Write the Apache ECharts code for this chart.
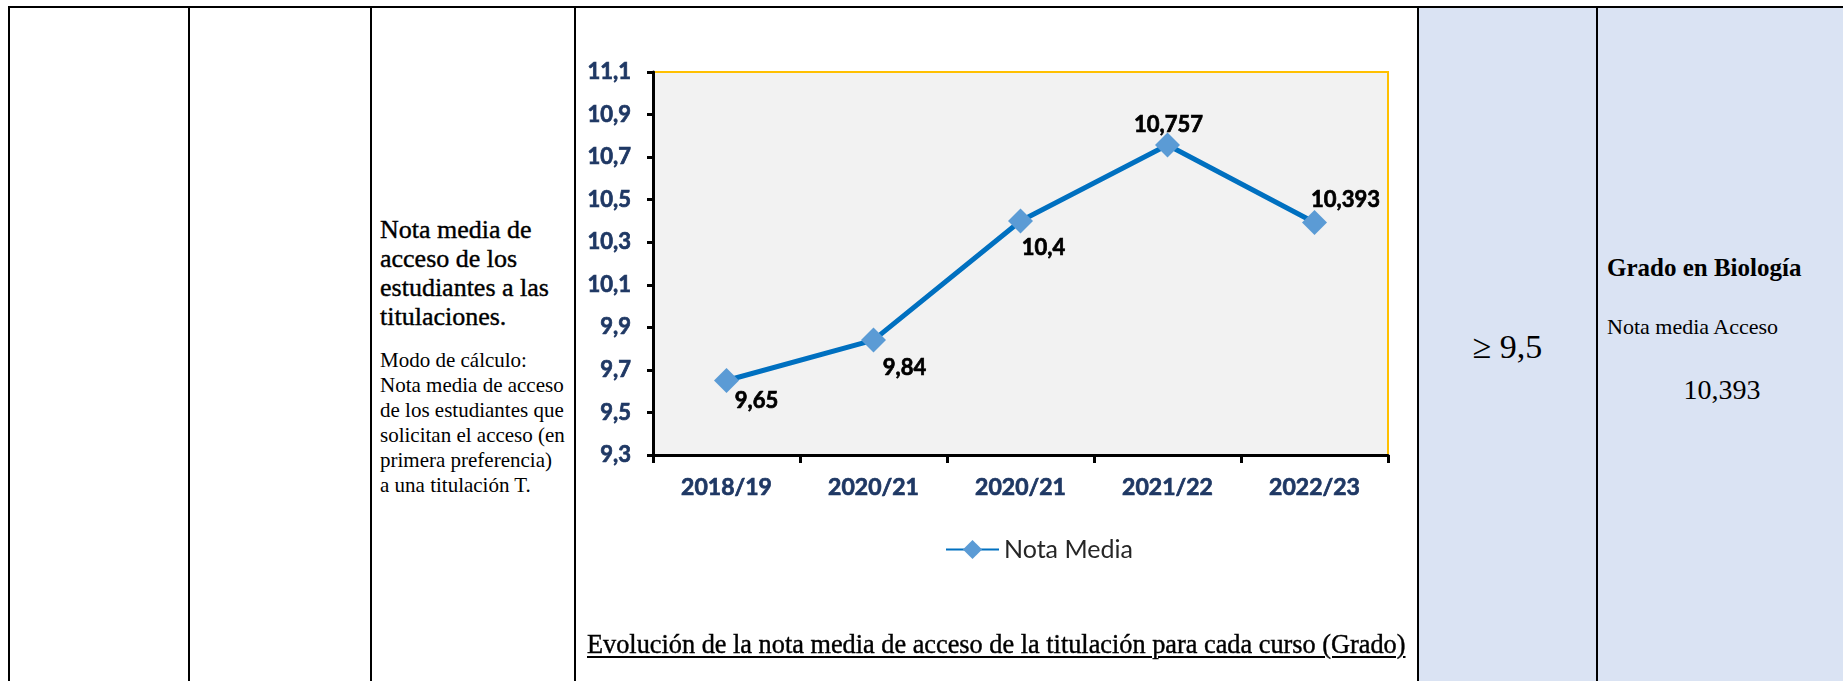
<!DOCTYPE html>
<html>
<head>
<meta charset="utf-8">
<title>Nota media de acceso</title>
<script src="https://cdn.jsdelivr.net/npm/echarts@6/dist/echarts.min.js"></script>
<style>
  html, body { margin: 0; padding: 0; background: #fff; }
  body { width: 1843px; height: 681px; position: relative; overflow: hidden;
         font-family: "Liberation Serif", serif; color: #000; }
  .vline { position: absolute; top: 6px; width: 2px; height: 675px; background: #000; }
  .hline { position: absolute; left: 8px; top: 6px; width: 1835px; height: 2px; background: #000; }
  .azul { position: absolute; top: 8px; height: 673px; background: #DAE3F3; }
  .txt { position: absolute; white-space: nowrap; }
  .grueso { -webkit-text-stroke: 0.4px #000; }
  #chart { position: absolute; left: 576px; top: 8px; width: 841px; height: 673px; }
</style>
</head>
<body>
  <!-- celdas azules -->
  <div class="azul" style="left:1419px;width:177px"></div>
  <div class="azul" style="left:1598px;width:245px"></div>

  <!-- bordes de la tabla -->
  <div class="hline"></div>
  <div class="vline" style="left:8px"></div>
  <div class="vline" style="left:188px"></div>
  <div class="vline" style="left:370px"></div>
  <div class="vline" style="left:574px"></div>
  <div class="vline" style="left:1417px"></div>
  <div class="vline" style="left:1596px"></div>

  <!-- texto del indicador -->
  <div class="txt grueso" style="left:380px;top:215px;font-size:26px;line-height:29px">
    Nota media de<br>acceso de los<br>estudiantes a las<br>titulaciones.
  </div>
  <div class="txt" style="left:380px;top:348px;font-size:21px;line-height:25px">
    Modo de cálculo:<br>Nota media de acceso<br>de los estudiantes que<br>solicitan el acceso (en<br>primera preferencia)<br>a una titulación T.
  </div>

  <!-- grafico -->
  <div id="chart"></div>
  <div class="txt grueso" style="left:587px;top:630px;font-size:26.3px;line-height:30px;text-decoration:underline;text-decoration-thickness:1.5px;text-underline-offset:3px">
    Evolución de la nota media de acceso de la titulación para cada curso (Grado)
  </div>

  <!-- columnas de la derecha -->
  <div class="txt" style="left:1419px;width:177px;top:327px;font-size:34px;line-height:40px;text-align:center">≥ 9,5</div>
  <div class="txt" style="left:1607px;top:253px;font-size:25px;line-height:30px;font-weight:bold">Grado en Biología</div>
  <div class="txt" style="left:1607px;top:313px;font-size:22px;line-height:28px">Nota media Acceso</div>
  <div class="txt" style="left:1607px;width:230px;top:373px;font-size:28px;line-height:34px;text-align:center">10,393</div>

<script>
// Datos del grafico
const cursos = ['2018/19', '2020/21', '2020/21', '2021/22', '2022/23'];
const notaMedia = [9.65, 9.84, 10.4, 10.757, 10.393];
const ejeYMin = 9.3;
const ejeYMax = 11.1;
const ejeYMarcas = [9.3, 9.5, 9.7, 9.9, 10.1, 10.3, 10.5, 10.7, 10.9, 11.1];

// Desplazamiento de cada etiqueta respecto a su punto (px)
const desplazEtiquetas = [[30, 20], [31, 28], [23, 27], [1, -20], [31, -23]];

var chart = echarts.init(document.getElementById('chart'));

// formato con coma decimal
function conComa(v) {
    return String(v).replace('.', ',');
}

// texto en negrita algo mas grueso (parecido a Calibri)
function negrita(color, size) {
    return {
        fontFamily: 'Lato',
        fontWeight: 'bold',
        fontSize: size,
        color: color,
        textBorderColor: color,
        textBorderWidth: 0.7
    };
}

var option = {
    animation: false,
    grid: {
        left: 77,
        top: 64,
        width: 735,
        height: 383,
        show: true,
        backgroundColor: '#F2F2F2',
        borderColor: '#FFC000',
        borderWidth: 2
    },
    legend: {
        data: ['Nota Media'],
        left: 364,
        top: 524,
        itemWidth: 53,
        itemHeight: 24,
        textStyle: {
            fontFamily: 'Lato',
            fontSize: 25,
            color: '#262626'
        }
    },
    xAxis: {
        type: 'category',
        data: cursos,
        boundaryGap: true,
        axisLine: { lineStyle: { color: '#000', width: 3 } },
        axisTick: {
            show: true,
            interval: 0,
            alignWithLabel: false,
            length: 8,
            lineStyle: { color: '#000', width: 3 }
        },
        axisLabel: Object.assign(negrita('#1F3864', 23), {
            interval: 0,
            margin: 21,
            lineHeight: 24
        }),
        splitLine: { show: false }
    },
    yAxis: {
        type: 'value',
        min: ejeYMin,
        max: ejeYMax,
        axisLine: { show: true, lineStyle: { color: '#000', width: 3 } },
        axisTick: {
            show: true,
            length: 6,
            customValues: ejeYMarcas,
            lineStyle: { color: '#000', width: 3 }
        },
        axisLabel: Object.assign(negrita('#1F3864', 22), {
            margin: 22,
            customValues: ejeYMarcas,
            formatter: function (v) { return v.toFixed(1).replace('.', ','); }
        }),
        splitLine: { show: false }
    },
    series: [
        {
            name: 'Nota Media',
            type: 'line',
            symbol: 'diamond',
            symbolSize: 25,
            lineStyle: { color: '#0070C0', width: 5 },
            itemStyle: { color: '#5B9BD5' },
            label: Object.assign(negrita('#000', 22), {
                show: true,
                position: 'inside',
                formatter: function (p) { return conComa(p.value); }
            }),
            data: notaMedia.map(function (v, i) {
                return { value: v, label: { offset: desplazEtiquetas[i] } };
            })
        }
    ]
};

if (option && typeof option === 'object') {
    chart.setOption(option);
}

window.addEventListener('resize', chart.resize);
</script>
</body>
</html>
